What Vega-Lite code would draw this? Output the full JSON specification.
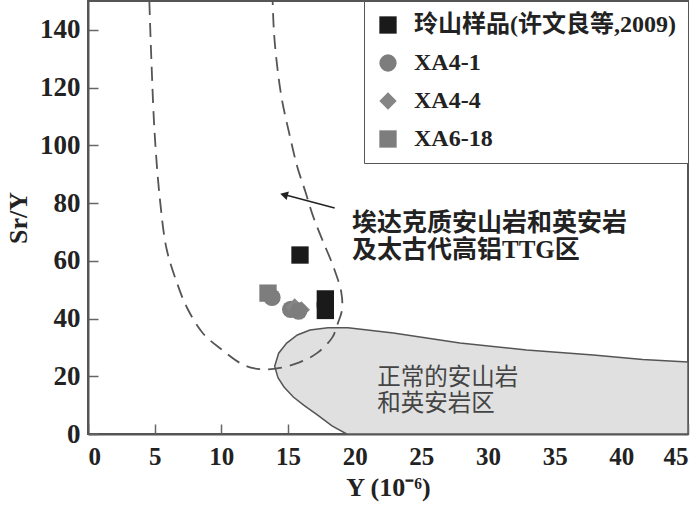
{
  "$schema": "https://vega.github.io/schema/vega-lite/v6.json",
  "width": 600,
  "height": 433,
  "autosize": {"type": "none"},
  "padding": {"left": 88, "top": 1, "right": 12, "bottom": 76},
  "background": "white",
  "config": {
    "view": {"stroke": "#555", "strokeWidth": 2},
    "axis": {
      "labelFont": "Liberation Serif", "labelFontWeight": "bold", "labelFontSize": 25, "labelColor": "#222",
      "titleFont": "Liberation Serif", "titleFontWeight": "bold", "titleFontSize": 26, "titleColor": "#222",
      "domainColor": "#555", "domainWidth": 2, "tickColor": "#666", "tickWidth": 1.5, "tickSize": -10, "grid": false
    }
  },
  "datasets": {
    "normal": [
      {"o": 1, "x": 14.0, "y": 23.5}, {"o": 2, "x": 14.3, "y": 28}, {"o": 3, "x": 14.9, "y": 31.5},
      {"o": 4, "x": 15.7, "y": 34.3}, {"o": 5, "x": 16.65, "y": 36.0}, {"o": 6, "x": 18.0, "y": 36.8},
      {"o": 7, "x": 19.5, "y": 36.8}, {"o": 8, "x": 22.9, "y": 35.0}, {"o": 9, "x": 27.9, "y": 31.5},
      {"o": 10, "x": 32.9, "y": 29.1}, {"o": 11, "x": 37.9, "y": 27.4}, {"o": 12, "x": 41.6, "y": 25.8},
      {"o": 13, "x": 45, "y": 24.9}, {"o": 14, "x": 45, "y": 0}, {"o": 15, "x": 19.4, "y": 0},
      {"o": 16, "x": 18.3, "y": 2.8}, {"o": 17, "x": 17.2, "y": 6.6}, {"o": 18, "x": 16.2, "y": 9.9},
      {"o": 19, "x": 15.4, "y": 12.8}, {"o": 20, "x": 14.7, "y": 16.3}, {"o": 21, "x": 14.25, "y": 19.5}
    ],
    "adakite": [
      {"o": 1, "x": 4.6, "y": 150}, {"o": 2, "x": 4.75, "y": 130}, {"o": 3, "x": 5.0, "y": 104},
      {"o": 4, "x": 5.4, "y": 81}, {"o": 5, "x": 5.9, "y": 64}, {"o": 6, "x": 6.7, "y": 52},
      {"o": 7, "x": 7.4, "y": 44}, {"o": 8, "x": 8.6, "y": 35}, {"o": 9, "x": 10.1, "y": 29},
      {"o": 10, "x": 11.4, "y": 24.6}, {"o": 11, "x": 12.4, "y": 22.8}, {"o": 12, "x": 13.4, "y": 22.4},
      {"o": 13, "x": 14.4, "y": 22.9}, {"o": 14, "x": 15.9, "y": 24.9}, {"o": 15, "x": 17.2, "y": 28.1},
      {"o": 16, "x": 18.3, "y": 33.3}, {"o": 17, "x": 18.75, "y": 38.5}, {"o": 18, "x": 19.05, "y": 43},
      {"o": 19, "x": 19.0, "y": 49}, {"o": 20, "x": 18.4, "y": 58}, {"o": 21, "x": 17.6, "y": 67},
      {"o": 22, "x": 16.9, "y": 75.2}, {"o": 23, "x": 16.3, "y": 84}, {"o": 24, "x": 15.7, "y": 92.5},
      {"o": 25, "x": 15.1, "y": 104}, {"o": 26, "x": 14.55, "y": 115.7}, {"o": 27, "x": 14.2, "y": 127},
      {"o": 28, "x": 13.95, "y": 139}, {"o": 29, "x": 13.85, "y": 150}
    ],
    "arrow": [{"x": 18.5, "y": 78.3, "x2": 14.9, "y2": 82.7}],
    "head": [{"x": 14.7, "y": 82.9}],
    "label1": [
      {"x": 19.8, "y": 73.1, "t": "埃达克质安山岩和英安岩\n及太古代高铝TTG区"}
    ],
    "label2": [
      {"x": 21.7, "y": 19.4, "t": "正常的安山岩\n和英安岩区"}
    ],
    "samples": [
      {"s": "玲山样品(许文良等,2009)", "x": 15.9, "y": 62.0},
      {"s": "玲山样品(许文良等,2009)", "x": 17.8, "y": 46.8},
      {"s": "玲山样品(许文良等,2009)", "x": 17.8, "y": 42.8},
      {"s": "XA6-18", "x": 13.5, "y": 48.8},
      {"s": "XA4-1", "x": 13.8, "y": 47.3},
      {"s": "XA4-1", "x": 15.2, "y": 43.2},
      {"s": "XA4-4", "x": 15.5, "y": 44.0},
      {"s": "XA4-4", "x": 16.0, "y": 43.0},
      {"s": "XA4-1", "x": 15.8, "y": 42.6}
    ]
  },
  "encoding": {
    "x": {
      "field": "x", "type": "quantitative",
      "scale": {"domain": [0, 45], "nice": false, "zero": false},
      "axis": {"title": "Y (10⁻⁶)", "values": [0, 5, 10, 15, 20, 25, 30, 35, 40, 45], "labelPadding": 20, "titlePadding": 5}
    },
    "y": {
      "field": "y", "type": "quantitative",
      "scale": {"domain": [0, 150], "nice": false, "zero": false},
      "axis": {"title": "Sr/Y", "values": [0, 20, 40, 60, 80, 100, 120, 140], "labelFontSize": 27, "labelPadding": 18, "titlePadding": 8}
    }
  },
  "layer": [
    {
      "data": {"name": "normal"},
      "mark": {"type": "line", "interpolate": "linear-closed", "fill": "#e0e0e0", "stroke": "#555", "strokeWidth": 1.5, "clip": true},
      "encoding": {"order": {"field": "o", "type": "quantitative"}}
    },
    {
      "data": {"name": "adakite"},
      "mark": {"type": "line", "interpolate": "catmull-rom", "stroke": "#555", "strokeWidth": 1.8, "strokeDash": [14, 8], "clip": true},
      "encoding": {"order": {"field": "o", "type": "quantitative"}}
    },
    {
      "data": {"name": "arrow"},
      "mark": {"type": "rule", "color": "#222", "strokeWidth": 1.5},
      "encoding": {"x2": {"field": "x2"}, "y2": {"field": "y2"}}
    },
    {
      "data": {"name": "head"},
      "mark": {"type": "point", "shape": "triangle-left", "angle": 15, "size": 80, "filled": true, "color": "#222", "opacity": 1}
    },
    {
      "data": {"name": "label1"},
      "mark": {"type": "text", "align": "left", "baseline": "middle", "lineBreak": "\n", "lineHeight": 27, "font": "Liberation Serif, Noto Sans CJK SC", "fontWeight": "bold", "fontSize": 25, "color": "#222"},
      "encoding": {"text": {"field": "t"}}
    },
    {
      "data": {"name": "label2"},
      "mark": {"type": "text", "align": "left", "baseline": "middle", "lineBreak": "\n", "lineHeight": 26, "font": "Liberation Serif, Noto Sans CJK SC", "fontSize": 23.5, "color": "#444"},
      "encoding": {"text": {"field": "t"}}
    },
    {
      "data": {"name": "samples"},
      "mark": {"type": "point", "filled": true, "size": 300, "opacity": 1},
      "encoding": {
        "shape": {
          "field": "s", "type": "nominal",
          "scale": {"domain": ["玲山样品(许文良等,2009)", "XA4-1", "XA4-4", "XA6-18"], "range": ["square", "circle", "diamond", "square"]},
          "legend": {
            "orient": "top-right", "offset": 0, "title": null,
            "labelFont": "Liberation Serif, Noto Sans CJK SC", "labelFontWeight": "bold", "labelFontSize": 24, "labelColor": "#222", "labelLimit": 500,
            "symbolSize": 300, "symbolStrokeWidth": 0, "rowPadding": 14, "padding": 12, "labelOffset": 14,
            "strokeColor": "#555", "fillColor": "white"
          }
        },
        "color": {
          "field": "s", "type": "nominal",
          "scale": {"domain": ["玲山样品(许文良等,2009)", "XA4-1", "XA4-4", "XA6-18"], "range": ["#1a1a1a", "#7d7d7d", "#858585", "#7d7d7d"]},
          "legend": {
            "orient": "top-right", "offset": 0, "title": null,
            "labelFont": "Liberation Serif, Noto Sans CJK SC", "labelFontWeight": "bold", "labelFontSize": 24, "labelColor": "#222", "labelLimit": 500,
            "symbolSize": 300, "symbolStrokeWidth": 0, "rowPadding": 14, "padding": 12, "labelOffset": 14,
            "strokeColor": "#555", "fillColor": "white"
          }
        }
      }
    }
  ]
}
